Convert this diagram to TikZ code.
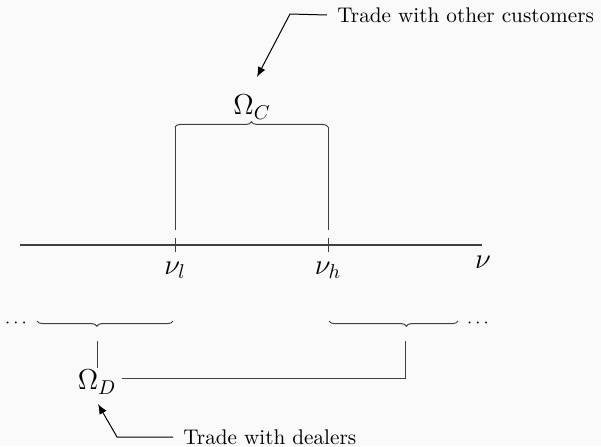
\documentclass[tikz,border=0pt]{standalone}
\usetikzlibrary{decorations.pathreplacing,arrows.meta}
\begin{document}
\begin{tikzpicture}[x=0.5pt,y=-0.5pt,
  ln/.style={draw=black!75, line width=0.5pt},
  brc/.style={ln, decorate, decoration={brace, amplitude=2.6pt}},
  arr/.style={draw=black, line width=0.5pt, -{Latex[length=5pt,width=4pt]}},
  lbl/.style={inner sep=0pt, font=\fontsize{10.6}{12}\selectfont},
  mth/.style={inner sep=1pt}]
\fill[black!2] (0,0) rectangle (601,446);
\useasboundingbox (0,0) rectangle (601,446);
% axis
\coordinate (a0) at (20,245);
\coordinate (a1) at (482,245);
\draw[ln, line width=0.7pt] (a0) -- (a1);
% ticks
\coordinate (tl1) at (175,238); \coordinate (tl2) at (175,252);
\coordinate (th1) at (328,238); \coordinate (th2) at (328,252);
\draw[ln] (tl1) -- (tl2);
\draw[ln] (th1) -- (th2);
\node[mth] (nul) at (175,270) {\Large $\nu_l$};
\node[mth] (nuh) at (328,270) {\Large $\nu_h$};
\node[mth] (nu) at (483,262) {\Large $\nu$};
% top brace
\coordinate (bl) at (175,127); \coordinate (br) at (328,127);
\coordinate (vl) at (175,230); \coordinate (vr) at (328,230);
\draw[brc] (bl) -- (br);
\draw[ln] (bl) -- (vl);
\draw[ln] (br) -- (vr);
\node[mth] (omc) at (252,107) {\Large $\Omega_C$};
% lower braces (tip down)
\coordinate (lb1) at (37,321); \coordinate (lb2) at (173,321);
\coordinate (rb1) at (329,321); \coordinate (rb2) at (458,321);
\draw[ln, decorate, decoration={brace, amplitude=2.6pt, mirror, aspect=0.44}] (lb1) -- (lb2);
\draw[ln, decorate, decoration={brace, amplitude=2.6pt, mirror, aspect=0.6}] (rb1) -- (rb2);
\node[mth] (dl) at (16,323) {\small $\cdots$};
\node[mth] (dr) at (478,323) {\small $\cdots$};
% Omega_D
\node[mth] (omd) at (97,382) {\Large $\Omega_D$};
\coordinate (lt) at (97,341);
\coordinate (rt) at (405,341);
\coordinate (rc) at (405,378);
\draw[ln] (lt) -- (omd.north);
\draw[ln] (omd.east |- rc) ++(3,0) -- (rc) -- (rt);
% annotations
\node[lbl, anchor=west] (tc) at (337,15) {Trade with other customers};
\coordinate (tk) at (290,14);
\coordinate (tt) at (257,77);
\draw[arr] (tc.west) ++(-10,0) -- (tk) -- (tt);
\node[lbl, anchor=west] (td) at (183,437) {Trade with dealers};
\coordinate (dk) at (117,437);
\coordinate (dt) at (98,404);
\draw[arr] (td.west) ++(-10,0) -- (dk) -- (dt);
\end{tikzpicture}
\end{document}
